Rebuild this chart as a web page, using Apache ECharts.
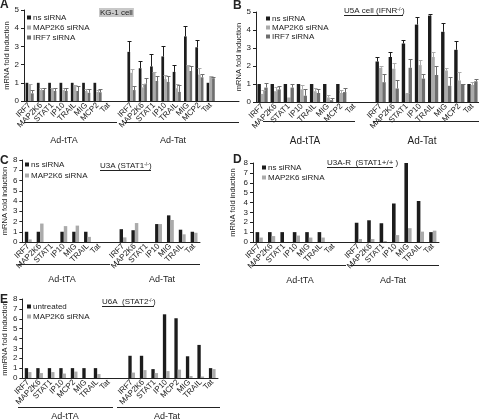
<!DOCTYPE html>
<html><head><meta charset="utf-8">
<script src="https://cdn.jsdelivr.net/npm/echarts@6/dist/echarts.min.js"></script>
<style>html,body{margin:0;padding:0;background:#fff}#c{width:479px;height:420px}</style>
</head><body><div id="c"></div>
<script>
// ---------- DATA ----------
// Panel A: KG-1 cell (first 8 = Ad-tTA, last 8 = Ad-Tat)
const genesA = ['IRF7','MAP2K6','STAT1','IP10','TRAIL','MIG','MCP2','Tat'];
const aNs     = [1,1,1,1,1,1,1,null, 2.7,1.8,1.9,2.45,1.6,3.55,2.95,1.0];
const aNsErr  = [0,0,0,0,0,0,0,0,    0.6,0.4,0.7,0.55,0.4,0.55,0.4,0];
const aMap    = [0.92,0.6,0.7,0.6,0.82,0.55,0.5,null, 1.55,0.75,1.55,1.2,0.7,1.95,1.45,1.35];
const aMapErr = [0.02,0.1,0.02,0.1,0.06,0.12,0.08,0,  0.2,0.2,0.05,0.25,0.25,0.05,0.35,0.05];
const aIrf    = [0.42,0.6,0.55,0.55,0.55,0.45,0.48,null, 0.6,0.95,1.1,1.05,0.5,1.65,1.3,1.25];
const aIrfErr = [0.18,0.12,0.15,0.18,0.25,0.22,0.18,0, 0.2,0.3,0.3,0.3,0.4,0.3,0.2,0.05];
// Panel B: U5A cell
const genesB = ['IRF7','MAP2K6','STAT1','IP10','TRAIL','MIG','MCP2','Tat'];
const bNs     = [1,1,1,1,1,1,1,null, 2.25,2.5,3.25,4.3,4.8,3.9,2.9,1.0];
const bNsErr  = [0,0,0,0,0,0,0,0,    0.25,0.3,0.2,0.4,0.1,0.5,0.5,0];
const bMap    = [0.45,0.6,0.25,0.7,0.6,0.25,0.5,null, 1.9,1.85,0.45,2.05,2.5,1.75,1.2,0.95];
const bMapErr = [0.2,0.25,0,0.25,0.2,0.15,0.15,0,     0.1,0.3,0.05,0.3,0.25,0.15,0.45,0.15];
const bIrf    = [0.8,0.7,0.8,0.35,0.5,0.1,0.55,null,  1.1,0.75,1.9,1.3,1.5,0.9,1.0,1.15];
const bIrfErr = [0.25,0.2,0.2,0.35,0.2,0.15,0.25,0,   0.45,0.45,0.5,0.25,0.5,0.5,0.02,0.15];
// Panel C: U3A (STAT1-/-)
const genesC = ['IRF7','MAP2K6','STAT1','IP10','MIG','TRAIL','Tat'];
const cNs  = [1,1,null,1,1,1,null, 1.25,1.15,null,1.75,2.6,1.2,1.0];
const cMap = [0.25,1.8,null,1.55,1.6,0.5,null, 0.45,1.85,null,1.75,2.15,0.75,0.9];
// Panel D: U3A-R (STAT1+/+)
const genesD = ['IRF7','MAP2K6','STAT1','IP10','MIG','TRAIL','Tat'];
const dNs  = [1,1,1,1,1,1,null, 1.95,2.2,1.9,3.9,8.0,4.15,1.0];
const dMap = [0.45,0.6,null,0.65,0.45,0.45,null, 0.3,0.3,0.1,0.7,1.4,1.05,1.15];
// Panel E: U6A (STAT2-/-)
const genesE = ['IRF7','MAP2K6','STAT1','IP10','MCP2','MIG','TRAIL','Tat'];
const eNs  = [1,1,1,1,1,1,1,null, 2.25,2.25,0.9,6.45,6.05,2.2,3.35,1.0];
const eMap = [0.6,0.5,0.6,0.45,0.65,null,0.4,null, 0.55,0.8,0.5,0.7,0.85,0.2,0.15,0.9];
const yTicksA = [0,1,2,3,4,5];
const yTicksC = [0,1,2,3,4,5,6,7,8];

// ---------- STYLE / LAYOUT ----------
const FONT = '"Liberation Sans", Arial, sans-serif';
const C_NS = '#1c1c1c', C_MAP = '#ababab', C_IRF = '#6e6e6e';

function cats(genes, mid, end){ return genes.concat(Array(mid).fill(''), genes, Array(end).fill('')); }
function place(vals, n, mid, end){
  const out = new Array(2*n+mid+end).fill(null);
  vals.forEach((v,i)=>{ out[i<n?i:i+mid] = v; });
  return out;
}
function errData(vals, errs, n, mid){
  const out=[];
  vals.forEach((v,i)=>{ if(v!=null && errs[i]>0) out.push([i<n?i:i+mid, v, errs[i]]); });
  return out;
}
function errRender(k, nb, gap, color){
  return function(params, api){
    const ci=api.value(0), v=api.value(1), e=api.value(2);
    const p=api.coord([ci,v]), t=api.coord([ci,v+e]);
    const w=api.size([1,0])[0];
    const gw=w*(1-gap), bw=gw/nb;
    const x=Math.round(p[0]-gw/2+(k+0.5)*bw)+0.5;
    const ty=Math.round(t[1])+0.5;
    return {type:'group', children:[
      {type:'line', shape:{x1:x,y1:p[1],x2:x,y2:ty}, style:{stroke:color,lineWidth:1}},
      {type:'line', shape:{x1:x-2,y1:ty,x2:x+2,y2:ty}, style:{stroke:color,lineWidth:1}}
    ]};
  };
}

const panels = [
  {grid:{left:24,top:10,width:215,height:91}, genes:genesA, mid:1, end:2, ymax:5, ticks:yTicksA, gap:0.28, nameGap:13, yname:'mRNA fold induction',
   series:[['ns siRNA',aNs,aNsErr,C_NS],['MAP2K6 siRNA',aMap,aMapErr,C_MAP],['IRF7 siRNA',aIrf,aIrfErr,C_IRF]]},
  {grid:{left:256,top:12,width:223,height:90}, genes:genesB, mid:1, end:0, ymax:5, ticks:yTicksA, gap:0.22, nameGap:9, yname:'mRNA fold induction',
   series:[['ns siRNA',bNs,bNsErr,C_NS],['MAP2K6 siRNA',bMap,bMapErr,C_MAP],['IRF7 siRNA',bIrf,bIrfErr,C_IRF]]},
  {grid:{left:21,top:160,width:179,height:82}, genes:genesC, mid:1, end:0, ymax:8, ticks:yTicksC, gap:0.42, nameGap:11, yname:'mRNA fold induction',
   series:[['ns siRNA',cNs,null,C_NS],['MAP2K6 siRNA',cMap,null,C_MAP]]},
  {grid:{left:253,top:163,width:186,height:79}, genes:genesD, mid:1, end:0, ymax:8, ticks:yTicksC, gap:0.42, nameGap:16, yname:'mRNA fold induction',
   series:[['ns siRNA',dNs,null,C_NS],['MAP2K6 siRNA',dMap,null,C_MAP]]},
  {grid:{left:21,top:299,width:197,height:79}, genes:genesE, mid:1, end:0, ymax:8, ticks:yTicksC, gap:0.42, nameGap:11, yname:'mmRNA fold induction',
   series:[['untreated',eNs,null,C_NS],['MAP2K6 siRNA',eMap,null,C_MAP]]}
];

const grid=[], xAxis=[], yAxis=[], series=[];
panels.forEach((p,gi)=>{
  const n=p.genes.length;
  grid.push(Object.assign({containLabel:false}, p.grid));
  xAxis.push({type:'category', gridIndex:gi, data:cats(p.genes,p.mid,p.end),
    axisLine:{lineStyle:{color:'#222',width:1}},
    axisTick:{alignWithLabel:false, interval:0, length:3, lineStyle:{color:'#222'}},
    axisLabel:{interval:0, rotate:45, fontSize:8, margin:3, color:'#222', fontFamily:FONT},
    splitLine:{show:false}});
  yAxis.push({type:'value', gridIndex:gi, min:0, max:p.ymax, interval:1,
    axisLine:{show:true, lineStyle:{color:'#222',width:1}},
    axisTick:{show:true, length:3, lineStyle:{color:'#222'}},
    axisLabel:{fontSize:8, margin:5, color:'#222', fontFamily:FONT, formatter:(v)=>p.ticks.includes(v)?String(v):''},
    splitLine:{show:false},
    name:p.yname, nameLocation:'middle', nameGap:p.nameGap, nameRotate:90,
    nameTextStyle:{fontSize:7.5, color:'#222', fontFamily:FONT}});
  const nb=p.series.length;
  p.series.forEach((s,k)=>{
    series.push({type:'bar', name:s[0], xAxisIndex:gi, yAxisIndex:gi, data:place(s[1],n,p.mid,p.end),
      itemStyle:{color:s[3]}, barGap:'0%', barCategoryGap:(p.gap*100)+'%', animation:false, z:2});
  });
  p.series.forEach((s,k)=>{
    if(s[2]) series.push({type:'custom', name:'err'+gi+'_'+k, xAxisIndex:gi, yAxisIndex:gi,
      data:errData(s[1],s[2],n,p.mid), encode:{x:0,y:1}, renderItem:errRender(k,nb,p.gap,s[3]), z:3, animation:false});
  });
});

const legStyle = {orient:'vertical', itemWidth:4, itemHeight:4, itemGap:1, icon:'rect', selectedMode:false,
  textStyle:{fontSize:8, lineHeight:9, color:'#222', fontFamily:FONT, padding:[0,0,0,-3]}};
const legend = [
  Object.assign({left:22, top:8, data:['ns siRNA','MAP2K6 siRNA','IRF7 siRNA']}, legStyle),
  Object.assign({left:261, top:9, data:['ns siRNA','MAP2K6 siRNA','IRF7 siRNA']}, legStyle, {itemGap:0}),
  Object.assign({left:20, top:155, data:['ns siRNA','MAP2K6 siRNA']}, legStyle, {itemGap:2}),
  Object.assign({left:257, top:158, data:['ns siRNA','MAP2K6 siRNA']}, legStyle),
  Object.assign({left:22, top:297, data:['untreated','MAP2K6 siRNA']}, legStyle)
];

function txt(x,y,text,size,extra){
  return {type:'text', x:x, y:y, silent:true, style:Object.assign({text:text, fontSize:size, fontFamily:FONT, fill:'#222', textAlign:'center', textVerticalAlign:'middle'}, extra||{})};
}
function ln(x1,y1,x2,y2){ return {type:'line', silent:true, shape:{x1:x1,y1:y1,x2:x2,y2:y2}, style:{stroke:'#222',lineWidth:1}}; }
const supRich = {n:{fontSize:8, fontFamily:FONT, fill:'#222'}, s:{fontSize:5, fontFamily:FONT, fill:'#222', verticalAlign:'top'}};

const graphic = [
  txt(0,-1,'A',12,{fontWeight:'bold', textAlign:'left', textVerticalAlign:'top'}),
  txt(233,0,'B',12,{fontWeight:'bold', textAlign:'left', textVerticalAlign:'top'}),
  txt(0,155,'C',12,{fontWeight:'bold', textAlign:'left', textVerticalAlign:'top'}),
  txt(233,154,'D',12,{fontWeight:'bold', textAlign:'left', textVerticalAlign:'top'}),
  txt(0,294,'E',12,{fontWeight:'bold', textAlign:'left', textVerticalAlign:'top'}),
  // panel titles
  txt(99,12.5,'KG-1 cell',8,{textAlign:'left', backgroundColor:'#c8c8c8', padding:[1,1,0,1]}),
  txt(344,11,'{n|U5A cell (IFNR}{s|-/-}{n|)}',8,{textAlign:'left', rich:supRich}), ln(344,15.5,403,15.5),
  txt(100,166,'{n|U3A (STAT1}{s|-/-}{n|)}',8,{textAlign:'left', rich:supRich}), ln(100,170.5,151,170.5),
  txt(327,163,'U3A-R  (STAT1+/+ )',8,{textAlign:'left'}), ln(327,167.5,393,167.5),
  txt(102,302,'{n|U6A  (STAT2}{s|-/-}{n|)}',8,{textAlign:'left', rich:supRich}), ln(102,306.5,154,306.5),
  // group brackets
  ln(24,122.5,117,122.5), ln(125,122.5,239,122.5), txt(64,141,'Ad-tTA',9), txt(173,141,'Ad-Tat',9),
  ln(263,121.5,355,121.5), ln(373,121.5,479,121.5), txt(305,141,'Ad-tTA',10), txt(422,141,'Ad-Tat',10),
  ln(18,264.5,110,264.5), ln(117,264.5,200,264.5), txt(62,280,'Ad-tTA',9), txt(162,280,'Ad-Tat',9),
  ln(253,265.5,346,265.5), ln(350,265.5,439,265.5), txt(300,281,'Ad-tTA',9), txt(393,281,'Ad-Tat',9),
  ln(18,407.5,113,407.5), ln(117,407.5,220,407.5), txt(65,417,'Ad-tTA',9), txt(167,417,'Ad-Tat',9)
];

const chart = echarts.init(document.getElementById('c'), null, {renderer:'canvas'});
chart.setOption({animation:false, backgroundColor:'#fff', grid, xAxis, yAxis, series, legend, graphic,
  textStyle:{fontFamily:FONT}});
</script></body></html>
